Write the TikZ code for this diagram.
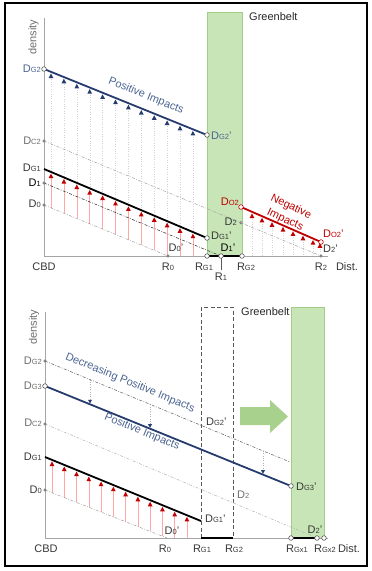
\documentclass[tikz,border=0pt]{standalone}
\usepackage{fontspec}
\setmainfont{Liberation Sans}
\usetikzlibrary{shapes.geometric,arrows.meta}
\definecolor{navy}{RGB}{38,60,110}
\definecolor{lblue}{RGB}{75,100,145}
\definecolor{dred}{RGB}{192,0,0}
\definecolor{gfill}{RGB}{199,229,182}
\definecolor{gdraw}{RGB}{160,205,135}
\definecolor{garrow}{RGB}{169,209,142}
\definecolor{axisgray}{RGB}{165,165,165}
\definecolor{ptgray}{RGB}{90,90,90}
\definecolor{txtgray}{RGB}{110,110,110}
\definecolor{txtdark}{RGB}{55,55,55}
\newcommand{\sbs}[1]{{\fontsize{7.5}{8}\selectfont #1}}
\begin{document}
\begin{tikzpicture}[x=1pt,y=-1pt,
  lab/.style={font=\fontsize{11}{12}\selectfont, inner sep=0pt, text=txtdark},
  axisline/.style={draw=axisgray, line width=0.9pt},
  pt/.style={circle, draw=ptgray, fill=white, line width=0.6pt, inner sep=0pt, minimum size=4.6pt},
  dotpt/.style={circle, draw=ptgray, fill=white, line width=0.5pt, inner sep=0pt, minimum size=2.6pt},
  thickblue/.style={draw=navy, line width=1.8pt},
  thickblack/.style={draw=black, line width=1.8pt},
  thickred/.style={draw=dred, line width=1.8pt},
  refline/.style={line width=0.5pt, dash pattern=on 3pt off 1.5pt on 0.8pt off 1.5pt},
  guide/.style={draw=gray!35, line width=0.4pt, dotted},
  redguide/.style={draw=red!35, line width=0.5pt},
  oldbelt/.style={draw=gray!70!black, line width=0.6pt, dash pattern=on 4pt off 2.5pt},
]
\useasboundingbox (0,0) rectangle (372,571);
\draw[line width=1.2pt] (5,3) rectangle (367,566);

% ================= TOP PANEL =================
\fill[gfill] (207,12) rectangle (242,256);
\draw[gdraw, line width=0.6pt] (207,256) -- (207,12) -- (242,12) -- (242,256);
\node[lab, anchor=west, text=black!85] (gb1) at (249,17) {Greenbelt};

\coordinate (DG2) at (44,69);
\coordinate (DG2p) at (207,135);
\coordinate (DC2) at (44,141);
\coordinate (D2) at (241,222.8);
\coordinate (R2) at (321,256);
\coordinate (DG1) at (44,169);
\coordinate (DG1p) at (207,238);
\coordinate (D1) at (44,183);
\coordinate (R1) at (221,256);
\coordinate (D0) at (44,205);
\coordinate (R0) at (168,256);
\coordinate (RG1) at (207,256);
\coordinate (RG2) at (242,256);
\coordinate (DO2) at (241,207);
\coordinate (DO2p) at (321,242);
\coordinate (Otop) at (44,18);
\coordinate (O) at (44,256);
\coordinate (Xend) at (328,256);

% guides and triangles
\foreach \k in {0,...,11}{
  \pgfmathsetmacro\xx{51+12.9*\k}
  \pgfmathsetmacro\yb{69+(\xx-44)*0.40491}
  \pgfmathsetmacro\yk{169+(\xx-44)*0.42331}
  \pgfmathsetmacro\yd{(\xx<168) ? (205+(\xx-44)*0.41129) : 256}
  \draw[guide] (\xx,\yb+5) -- (\xx,\yk);
  \draw[redguide] (\xx,\yd) -- (\xx,\yk+5);
  \fill[navy] (\xx-2.4,\yb+6.2) -- (\xx+2.4,\yb+6.2) -- (\xx,\yb+1.6) -- cycle;
  \fill[dred] (\xx-2.4,\yk+6.2) -- (\xx+2.4,\yk+6.2) -- (\xx,\yk+1.6) -- cycle;
}
\foreach \xx in {252,262,272,283,293,303,313,320}{
  \pgfmathsetmacro\yr{207+(\xx-241)*0.4375}
  \draw[guide] (\xx,\yr+5) -- (\xx,256);
  \fill[dred] (\xx-2.4,\yr+6.2) -- (\xx+2.4,\yr+6.2) -- (\xx,\yr+1.6) -- cycle;
}

\draw[axisline] (Otop) -- (O) -- (Xend);
\draw[refline, draw=gray!75] (DC2) -- (D2) -- (R2);
\draw[refline, draw=black!85] (D1) -- (R1);
\draw[refline, draw=gray!75] (D0) -- (R0);
\draw[thickblue] (DG2) -- (DG2p);
\draw[thickblack] (DG1) -- (DG1p);
\draw[thickred] (DO2) -- (DO2p);
\draw[black, line width=1.8pt] (RG1) -- (RG2);
\draw[ptgray, line width=0.6pt] (R1) -- (221,270);

\node[pt] (pDG2) at (DG2) {};
\node[pt] (pDG2p) at (DG2p) {};
\node[dotpt] (pDC2) at (DC2) {};
\node[dotpt] (pD2) at (D2) {};
\node[dotpt] (pR2) at (R2) {};
\node[dotpt] (pD1) at (D1) {};
\node[dotpt] (pD0) at (D0) {};
\node[dotpt] (pR0) at (R0) {};
\node[pt] (pDG1p) at (DG1p) {};
\node[pt] (pRG1) at (RG1) {};
\node[pt] (pR1) at (R1) {};
\node[pt] (pRG2) at (RG2) {};
\node[pt, draw=dred] (pDO2) at (DO2) {};
\node[pt, draw=dred] (pDO2p) at (DO2p) {};

\node[lab, rotate=90, text=txtgray] (dens1) at (33.5,37) {density};
\node[lab, anchor=east, text=lblue] (lDG2) at (41,69) {D\sbs{G2}};
\node[lab, anchor=east, text=txtgray] (lDC2) at (41,141) {D\sbs{C2}};
\node[lab, anchor=east] (lDG1) at (41,168) {D\sbs{G1}};
\node[lab, anchor=east, text=black] (lD1) at (41,183) {D\sbs{1}};
\node[lab, anchor=east] (lD0) at (41,204) {D\sbs{0}};
\node[lab] (lCBD) at (44,267) {CBD};
\node[lab] (lR0) at (168,267) {R\sbs{0}};
\node[lab] (lRG1) at (204,267) {R\sbs{G1}};
\node[lab] (lR1) at (221,277) {R\sbs{1}};
\node[lab] (lRG2) at (246,267) {R\sbs{G2}};
\node[lab] (lR2) at (321,267) {R\sbs{2}};
\node[lab] (lDist1) at (347,267) {Dist.};
\node[lab, anchor=west, text=lblue] (lDG2p) at (211,136) {D\sbs{G2}'};
\node[lab, anchor=west] (lDG1p) at (211,235.5) {D\sbs{G1}'};
\node[lab, text=black] (lD1p) at (228,247.5) {D\sbs{1}'};
\node[lab, anchor=east] (lD2) at (237,222) {D\sbs{2}};
\node[lab, anchor=west] (lD2p) at (323,249) {D\sbs{2}'};
\node[lab] (lD0p) at (176,248) {D\sbs{0}'};
\node[lab, anchor=east, text=dred] (lDO2) at (239,202) {D\sbs{O2}};
\node[lab, anchor=west, text=dred] (lDO2p) at (323,234) {D\sbs{O2}'};
\node[lab, text=lblue, rotate=-22] (tPos1) at (146,96) {Positive Impacts};
\node[lab, text=dred, rotate=-25] (tNeg1) at (291,207) {Negative};
\node[lab, text=dred, rotate=-25] (tNeg2) at (285,220) {Impacts};

% ================= BOTTOM PANEL =================
\fill[gfill] (291,307) rectangle (324,538);
\draw[gdraw, line width=0.6pt] (291,538) -- (291,307) -- (324,307) -- (324,538);
\node[lab, anchor=west, text=black!85] (gb2) at (241,312) {Greenbelt};
\fill[garrow] (240,407) -- (270,407) -- (270,400) -- (288,416.5) -- (270,433) -- (270,425) -- (240,425) -- cycle;

\coordinate (bDG2) at (45,361);
\coordinate (bDG2e) at (290,462);
\coordinate (bDG3) at (45,386);
\coordinate (bDG3p) at (291,486);
\coordinate (bDC2) at (45,424);
\coordinate (bRx2) at (317,538);
\coordinate (bRx3) at (324,538);
\coordinate (bDG1) at (45,457);
\coordinate (bDG1p) at (201,521);
\coordinate (bD0) at (45,490);
\coordinate (bR0) at (167,538);
\coordinate (bRG1) at (201,538);
\coordinate (bRG2) at (233,538);
\coordinate (bRx1) at (291,538);
\coordinate (bOtop) at (45,312);
\coordinate (bO) at (45,538);
\coordinate (bXend) at (328,538);

\foreach \k in {0,...,11}{
  \pgfmathsetmacro\xx{52+12.27*\k}
  \pgfmathsetmacro\yk{457+(\xx-45)*0.41026}
  \pgfmathsetmacro\yd{(\xx<167) ? (490+(\xx-45)*0.39344) : 538}
  \draw[redguide] (\xx,\yd) -- (\xx,\yk+5);
  \fill[dred] (\xx-2.4,\yk+6.2) -- (\xx+2.4,\yk+6.2) -- (\xx,\yk+1.6) -- cycle;
}
\foreach \xx in {90,150,263}{
  \pgfmathsetmacro\ya{361+(\xx-45)*0.41224}
  \pgfmathsetmacro\yb{386+(\xx-45)*0.40650}
  \draw[guide, draw=gray!60] (\xx,\ya) -- (\xx,\yb-4);
  \fill[navy] (\xx-2,\yb-4.5) -- (\xx+2,\yb-4.5) -- (\xx,\yb-0.8) -- cycle;
}

\draw[oldbelt] (bRG1) -- (201,307) -- (233,307) -- (bRG2);
\draw[axisline] (bOtop) -- (bO) -- (bXend);
\draw[refline, draw=black!65] (bDG2) -- (bDG2e);
\draw[refline, draw=gray!60] (bDC2) -- (bRx2);
\draw[refline, draw=gray!75] (bD0) -- (bR0);
\draw[thickblue] (bDG3) -- (bDG3p);
\draw[thickblack] (bDG1) -- (bDG1p);
\draw[black, line width=1.8pt] (bRG1) -- (bRG2);
\draw[black, line width=1.8pt] (bRx1) -- (bRx2);

\node[pt] (pbDG3) at (bDG3) {};
\node[pt] (pbDG3p) at (bDG3p) {};
\node[dotpt] (pbDG2) at (bDG2) {};
\node[dotpt] (pbDC2) at (bDC2) {};
\node[dotpt] (pbD0) at (bD0) {};
\node[pt] (pbRx1) at (bRx1) {};
\node[pt] (pbRx2) at (bRx2) {};
\node[pt] (pbRx3) at (bRx3) {};

\node[lab, rotate=90, text=txtgray] (dens2) at (34,327) {density};
\node[lab, anchor=east, text=txtgray] (blDG2) at (42,361) {D\sbs{G2}};
\node[lab, anchor=east, text=txtgray] (blDG3) at (42,386) {D\sbs{G3}};
\node[lab, anchor=east, text=txtgray] (blDC2) at (42,423) {D\sbs{C2}};
\node[lab, anchor=east] (blDG1) at (42,457) {D\sbs{G1}};
\node[lab, anchor=east] (blD0) at (42,490) {D\sbs{0}};
\node[lab] (blCBD) at (46,549) {CBD};
\node[lab] (blR0) at (165,549) {R\sbs{0}};
\node[lab] (blRG1) at (202,549) {R\sbs{G1}};
\node[lab] (blRG2) at (234,549) {R\sbs{G2}};
\node[lab] (blRx1) at (297,549) {R\sbs{Gx1}};
\node[lab] (blRx2) at (325,549) {R\sbs{Gx2}};
\node[lab] (blDist) at (349,549) {Dist.};
\node[lab, anchor=west] (blDG2p) at (206,422) {D\sbs{G2}'};
\node[lab, anchor=west] (blDG3p) at (296,487) {D\sbs{G3}'};
\node[lab, anchor=west, text=txtgray] (blD2) at (237,495) {D\sbs{2}};
\node[lab] (blD2p) at (315,530) {D\sbs{2}'};
\node[lab, anchor=west] (blDG1p) at (205,519) {D\sbs{G1}'};
\node[lab] (blD0p) at (172,531) {D\sbs{0}'};
\node[lab, text=lblue, rotate=-22.5] (tDec) at (130,383) {Decreasing Positive Impacts};
\node[lab, text=lblue, rotate=-22.5] (tPos2) at (142,432) {Positive Impacts};
\end{tikzpicture}
\end{document}
